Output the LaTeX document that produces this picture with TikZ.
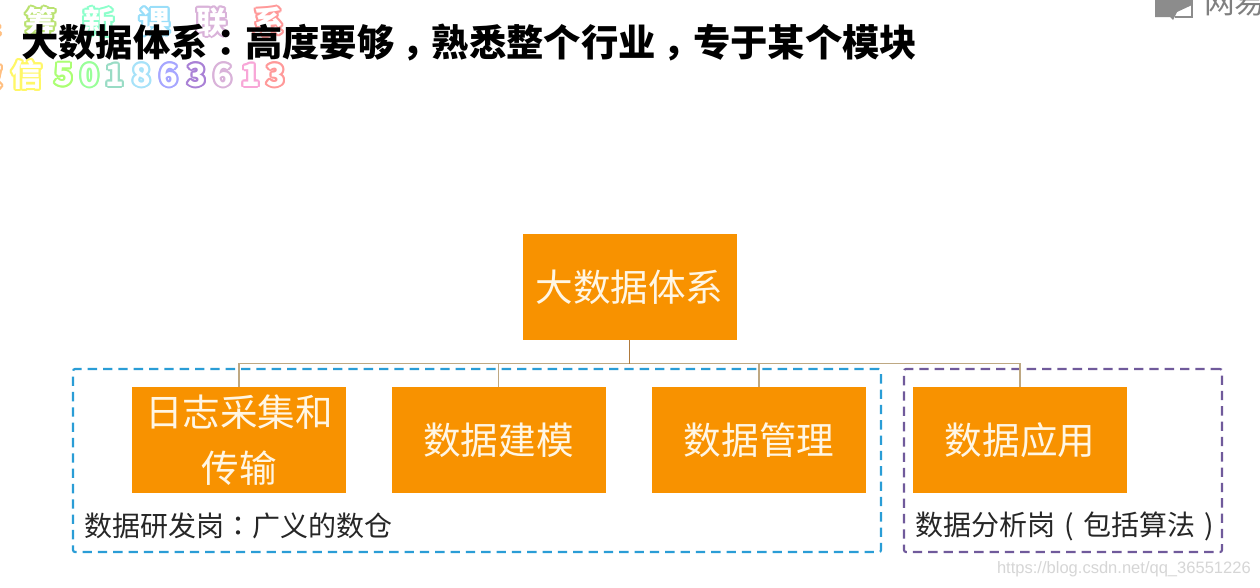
\documentclass[tikz,border=0pt]{standalone}
\usepackage{fontspec}
\setmainfont{Noto Sans CJK SC}
\newfontfamily\punctfont{Noto Sans CJK TC}
\newfontfamily\urlfont{Liberation Sans}
\usetikzlibrary{positioning}
\definecolor{emph1}{RGB}{248,146,0}
\definecolor{emph2}{RGB}{190,168,130}
\definecolor{emph3}{RGB}{176,122,60}
\definecolor{devblue}{RGB}{42,157,214}
\definecolor{anapurple}{RGB}{112,90,155}
\definecolor{boxtext}{RGB}{255,246,228}
\newcommand{\lowcomma}{\raisebox{-0.27em}{\punctfont ，}}
\tikzset{
  orangebox/.style={fill=emph1,text=boxtext,minimum width=160.5pt,minimum height=79.5pt,inner sep=0pt,align=center,font=\fontsize{28.2}{42}\selectfont},
  bus/.style={draw=emph2,line width=1.3pt},
  jobframe/.style={line width=1.6pt,dash pattern=on 7pt off 4.5pt,rounded corners=1.5pt,inner sep=0pt},
  joblabel/.style={anchor=west,inner sep=0pt,text=black!85,font=\fontsize{21}{25}\selectfont},
  wmark/.style={inner sep=0pt,font=\bfseries\fontsize{23}{27}\selectfont},
}
% outline lettering: coloured copies round a white one
\newcommand{\wmchar}[4]{%
  \foreach \ang in {0,30,...,330}
    \node[wmark,text=#3] at ([shift={(\ang:1.5pt)}]#1,#2) {#4};
  \node[wmark,text=white] at (#1,#2) {#4};
}
\begin{document}
\begin{tikzpicture}[x=0.75pt,y=-0.75pt]
  \useasboundingbox (0,0) rectangle (1260,587);
  \clip (0,0) rectangle (1260,587);
  \fill[white] (0,0) rectangle (1260,587);
  %watermark
  \wmchar{-13}{24}{orange!50}{系}
  \wmchar{41}{22}{yellow!55!green!60}{筹}
  \wmchar{99}{22}{green!45!cyan!45}{新}
  \wmchar{155}{22}{cyan!40}{课}
  \wmchar{212}{22}{violet!30}{联}
  \wmchar{269}{22}{red!40}{系}
  \wmchar{-13}{75}{orange!50}{微}
  \wmchar{27}{75}{yellow!60}{信}
  \wmchar{64}{75}{green!60!yellow!55}{5}
  \wmchar{90}{75}{green!40}{0}
  \wmchar{115}{75}{cyan!40!green!40}{1}
  \wmchar{142}{75}{cyan!35}{8}
  \wmchar{169}{75}{blue!35}{6}
  \wmchar{197}{75}{blue!35!violet!50}{3}
  \wmchar{223}{75}{violet!30}{6}
  \wmchar{251}{75}{magenta!35}{1}
  \wmchar{276}{75}{red!40}{3}
  %title
  \node[anchor=west,inner sep=0pt,font=\bfseries\fontsize{28}{32}\selectfont] (title) at (21,45) {大数据体系{\punctfont ：}高度要够\lowcomma{}熟悉整个行业\lowcomma{}专于某个模块};
  %corner logo
  \fill[gray!90] (1155,-2)--(1192,-2)--(1192,5)--(1177,12)--(1173,20)--(1170,17)--(1155,17)--cycle;
  \draw[gray!90,line width=1pt] (1192,-2)--(1192,17)--(1175,17);
  \node[anchor=west,inner sep=0pt,text=gray,font=\fontsize{23}{28}\selectfont] (logo) at (1204,3) {网易};
  %frames
  \node[jobframe,draw=devblue,minimum width=606pt,minimum height=137.25pt] (dev) at (477,460.5) {};
  \node[jobframe,draw=anapurple,minimum width=238.5pt,minimum height=137.25pt] (ana) at (1063,460.5) {};
  %boxes
  \node[orangebox] (root) at (629.5,287) {大数据体系};
  \node[orangebox] (collect) at (239,440) {日志采集和\\传输};
  \node[orangebox] (model) at (498.5,440) {数据建模};
  \node[orangebox] (manage) at (759,440) {数据管理};
  \node[orangebox] (apply) at (1020,440) {数据应用};
  %connectors
  \coordinate (hub) at (629.5,363.5);
  \draw[bus] (hub)-|(collect.north);
  \draw[bus] (hub)-|(model.north);
  \draw[bus] (hub)-|(manage.north);
  \draw[bus] (hub)-|(apply.north);
  \draw[bus,draw=emph3,line width=1.4pt] (root.south)--(hub);
  %labels
  \node[joblabel] (devlabel) at (84,526) {数据研发岗{\punctfont ：}广义的数仓};
  \node[joblabel] (analabel) at (915,526) {数据分析岗\makebox[1em]{(}包括算法\makebox[1em]{)}};
  \node[anchor=east,inner sep=0pt,text=black!16,font=\urlfont\fontsize{12.4}{16}\selectfont] (url) at (1251,569) {https://blog.csdn.net/qq\_36551226};
\end{tikzpicture}
\end{document}
